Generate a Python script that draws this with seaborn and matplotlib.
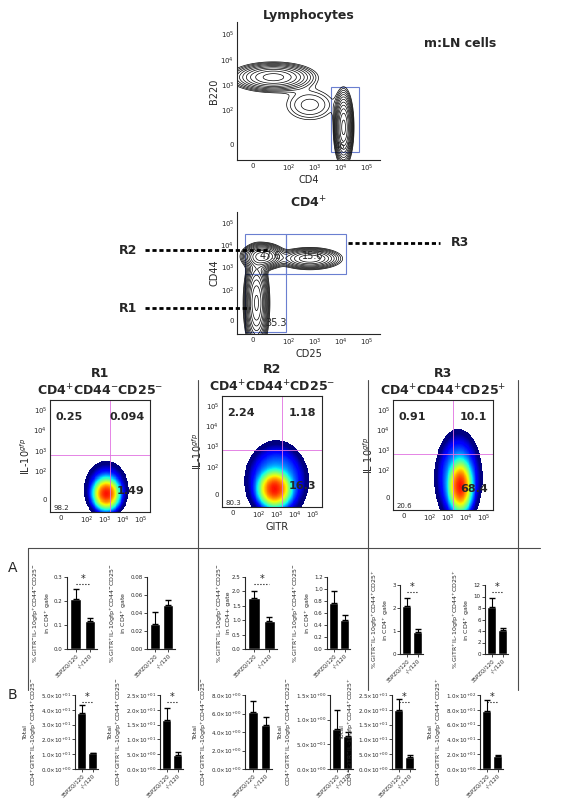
import numpy as np
import pandas as pd
import matplotlib
matplotlib.use("Agg")
import matplotlib.pyplot as plt
import seaborn as sns

sns.set_style("ticks")
plt.rcParams['font.family'] = ['DejaVu Sans']

W, H = 565, 800
fig = plt.figure(figsize=(5.65, 8), dpi=100)

def ax_px(x0, y0, x1, y1):
    return fig.add_axes([x0 / W, 1 - y1 / H, (x1 - x0) / W, (y1 - y0) / H])

flow_ticks = [0.6, 2, 3, 4, 5]
flow_ticklabels = ["0", "$10^2$", "$10^3$", "$10^4$", "$10^5$"]

# ---- flow population descriptions (centre x, centre y, sd x, sd y, weight)
lymph_pops = [(1.4, 3.3, 0.7, 0.25, 1.0), (4.1, 1.3, 0.15, 0.6, 1.8), (2.8, 2.2, 0.6, 0.4, 0.15)]
cd4_pops = [(1.0, 3.5, 0.35, 0.25, 1.2), (2.8, 3.4, 0.55, 0.22, 0.7), (0.75, 1.4, 0.2, 0.9, 1.4)]
r_pops = {
    "R1": [(3.1, 0.9, 0.28, 0.3, 1.0), (3.1, 1.1, 0.6, 0.7, 0.02)],
    "R2": [(2.9, 0.9, 0.35, 0.35, 1.0), (3.0, 1.3, 0.8, 0.9, 0.03)],
    "R3": [(3.7, 1.2, 0.25, 0.5, 1.0), (3.6, 1.6, 0.6, 1.1, 0.03)],
}

def density(pops, n=220):
    g = np.linspace(0, 5.5, n)
    X, Y = np.meshgrid(g, g)
    Z = np.zeros_like(X)
    for cx, cy, sx, sy, w in pops:
        Z += w * np.exp(-((X - cx) ** 2 / (2 * sx ** 2) + (Y - cy) ** 2 / (2 * sy ** 2)))
    return X, Y, Z

def flow_axes(ax, xlabel, ylabel):
    ax.set_xlim(0, 5.5); ax.set_ylim(0, 5.5)
    ax.set_xticks(flow_ticks); ax.set_xticklabels(flow_ticklabels, fontsize=5)
    ax.set_yticks(flow_ticks); ax.set_yticklabels(flow_ticklabels, fontsize=5)
    ax.tick_params(length=0, pad=2)
    ax.set_xlabel(xlabel, fontsize=7, labelpad=1)
    ax.set_ylabel(ylabel, fontsize=7, labelpad=1)
    for s in ["top", "right"]:
        ax.spines[s].set_visible(False)

# Lymphocytes
ax = ax_px(237, 22, 380, 160)
X, Y, Z = density(lymph_pops)
ax.contour(X, Y, Z, levels=np.geomspace(0.05, 1.6, 12), colors="k", linewidths=0.5)
ax.add_patch(plt.Rectangle((3.6, 0.3), 1.1, 2.6, fill=False, ec="#6a7fd0", lw=0.8))
ax.text(4.1, 0.45, "46.9", fontsize=6, ha="center")
flow_axes(ax, "CD4", "B220")
ax.set_title("Lymphocytes", fontsize=9, fontweight="bold", pad=2)
fig.text(460 / W, 1 - 47 / H, "m:LN cells", fontsize=9, fontweight="bold", ha="center")

# CD4+
ax = ax_px(237, 212, 380, 334)
X, Y, Z = density(cd4_pops)
ax.contour(X, Y, Z, levels=np.geomspace(0.05, 1.3, 12), colors="k", linewidths=0.5)
ax.add_patch(plt.Rectangle((0.3, 2.7), 1.6, 1.8, fill=False, ec="#6a7fd0", lw=0.8))
ax.add_patch(plt.Rectangle((1.9, 2.7), 2.3, 1.8, fill=False, ec="#6a7fd0", lw=0.8))
ax.add_patch(plt.Rectangle((0.3, 0.1), 1.6, 2.6, fill=False, ec="#6a7fd0", lw=0.8))
ax.text(1.3, 3.4, "47.6", fontsize=7, ha="center")
ax.text(2.9, 3.4, "15.6", fontsize=7, ha="center")
ax.text(1.5, 0.35, "35.3", fontsize=7, ha="center")
flow_axes(ax, "CD25", "CD44")
ax.set_title("CD4$^{+}$", fontsize=9, fontweight="bold", pad=3)

for label, y, x0, x1, tx in [("R2", 250, 145, 268, 128), ("R1", 308, 145, 250, 128)]:
    fig.add_artist(plt.Line2D([x0 / W, x1 / W], [1 - y / H] * 2, ls=(0, (1.5, 1)), lw=2, color="k"))
    fig.text(tx / W, 1 - y / H, label, fontsize=9, fontweight="bold", ha="center", va="center")
fig.add_artist(plt.Line2D([348 / W, 440 / W], [1 - 243 / H] * 2, ls=(0, (1.5, 1)), lw=2, color="k"))
fig.text(460 / W, 1 - 243 / H, "R3", fontsize=9, fontweight="bold", ha="center", va="center")

# Scatter density panels
panels = [
    ("R1", "CD4$^{+}$CD44$^{-}$CD25$^{-}$", (50, 400, 150, 512), ["0.25", "0.094", "1.49", "98.2"]),
    ("R2", "CD4$^{+}$CD44$^{+}$CD25$^{-}$", (222, 396, 322, 507), ["2.24", "1.18", "16.3", "80.3"]),
    ("R3", "CD4$^{+}$CD44$^{+}$CD25$^{+}$", (393, 400, 493, 510), ["0.91", "10.1", "68.4", "20.6"]),
]
for name, title, (x0, y0, x1, y1), q in panels:
    ax = ax_px(x0, y0, x1, y1)
    X, Y, Z = density(r_pops[name])
    L = np.log10(np.maximum(Z, 1e-9))
    L = np.where(L > -2.6, L, np.nan)
    ax.pcolormesh(X, Y, L, cmap="jet", shading="auto", vmin=-2.4, vmax=0.3)
    ax.axvline(3.3, color="#e070e0", lw=0.6); ax.axhline(2.8, color="#e070e0", lw=0.6)
    ax.text(0.3, 4.9, q[0], fontsize=8, fontweight="bold", va="top")
    ax.text(5.2, 4.9, q[1], fontsize=8, fontweight="bold", va="top", ha="right")
    ax.text(5.2, 0.9, q[2], fontsize=8, fontweight="bold", ha="right")
    ax.text(0.2, 0.1, q[3], fontsize=5)
    flow_axes(ax, "", "IL-10$^{gfp}$")
    for s in ["top", "right"]:
        ax.spines[s].set_visible(True)
    ax.set_title(name + "\n" + title, fontsize=9, fontweight="bold", pad=3, linespacing=1.3)
fig.text(277 / W, 1 - 530 / H, "GITR", fontsize=7, ha="center")

# Frame lines
def line(x0, y0, x1, y1, c="0.3"):
    fig.add_artist(plt.Line2D([x0 / W, x1 / W], [1 - y0 / H, 1 - y1 / H], color=c, lw=0.8))
line(28, 548, 540, 548)
line(28, 548, 28, 690)
line(198, 380, 198, 690)
line(368, 380, 368, 690)
line(518, 380, 518, 690)
fig.text(8 / W, 1 - 568 / H, "A", fontsize=10, va="center")
fig.text(8 / W, 1 - 695 / H, "B", fontsize=10, va="center")

# ---- bar data
groups = ["35PZQ/120", "-/-/120"]
A_means = [[0.21, 0.115], [0.028, 0.049], [1.78, 0.98], [0.76, 0.48], [2.1, 0.95], [8.2, 4.1]]
A_errs = [[0.04, 0.015], [0.013, 0.006], [0.25, 0.13], [0.2, 0.09], [0.35, 0.12], [1.6, 0.5]]
A_ylims = [0.3, 0.08, 2.5, 1.2, 3, 12]
A_ticks = [[0, 0.1, 0.2, 0.3], [0, 0.02, 0.04, 0.06, 0.08], [0, 0.5, 1.0, 1.5, 2.0, 2.5],
           [0, 0.2, 0.4, 0.6, 0.8, 1.0, 1.2], [0, 1, 2, 3], [0, 2, 4, 6, 8, 10, 12]]
A_fmt = ["{:.1f}", "{:.2f}", "{:.1f}", "{:.1f}", "{:.0f}", "{:.0f}"]
A_labels = ["% GITR$^{-}$IL-10gfp$^{+}$CD44$^{-}$CD25$^{-}$\nin CD4$^{+}$ gate",
            "% GITR$^{+}$IL-10gfp$^{+}$CD44$^{-}$CD25$^{-}$\nin CD4$^{+}$ gate",
            "% GITR$^{-}$IL-10gfp$^{+}$CD44$^{+}$CD25$^{-}$\nin CD4+ gate",
            "% GITR$^{+}$IL-10gfp$^{+}$CD44$^{+}$CD25$^{-}$\nin CD4$^{+}$ gate",
            "% GITR$^{-}$IL-10gfp$^{+}$CD44$^{+}$CD25$^{+}$\nin CD4$^{+}$ gate",
            "% GITR$^{+}$IL-10gfp$^{+}$CD44$^{+}$CD25$^{+}$\nin CD4$^{+}$ gate"]
A_sig = [True, False, True, False, True, True]
A_pos = [(67, 577, 97, 649), (147, 577, 175, 649), (245, 577, 277, 649),
         (327, 577, 350, 649), (400, 585, 423, 654), (485, 585, 508, 654)]

B_means = [[38, 11], [16.5, 4.8], [6.2, 4.8], [0.82, 0.66], [20, 4.2], [78, 18]]
B_errs = [[5.5, 0], [4, 0.8], [1.1, 0.8], [0.38, 0.08], [3.5, 0.4], [15, 1.5]]
B_ylims = [50, 25, 8, 1.5, 25, 100]
B_ticks = [[0, 10, 20, 30, 40, 50], [0, 5, 10, 15, 20, 25], [0, 2, 4, 6, 8],
           [0, 0.5, 1.0, 1.5], [0, 5, 10, 15, 20, 25], [0, 20, 40, 60, 80, 100]]
B_labels = ["Total\nCD4$^{+}$GITR$^{-}$IL-10gfp$^{+}$CD44$^{+}$CD25$^{-}$",
            "Total\nCD4$^{+}$GITR$^{+}$IL-10gfp$^{+}$CD44$^{+}$CD25$^{-}$",
            "Total\nCD4$^{+}$GITR$^{-}$IL-10gfp$^{+}$CD44$^{-}$CD25$^{-}$",
            "Total\nCD4$^{+}$GITR$^{+}$IL-10gfp$^{+}$CD44$^{-}$CD25$^{-}$",
            "Total\nCD4$^{+}$GITR$^{-}$IL-10gfp$^{+}$CD44$^{+}$CD25$^{+}$",
            "Total\nCD4$^{+}$GITR$^{+}$IL-10gfp$^{+}$CD44$^{+}$CD25$^{+}$"]
B_sig = [True, True, False, False, True, True]
B_pos = [(75, 695, 98, 769), (160, 695, 183, 769), (245, 695, 272, 769),
         (330, 695, 353, 769), (392, 695, 415, 769), (480, 695, 503, 769)]

def sci(v):
    if v == 0:
        return r"$0.0{\times}10^{+00}$"
    e = int(np.floor(np.log10(v)))
    m = v / 10 ** e
    sign = "+" if e >= 0 else "-"
    return r"$%.1f{\times}10^{%s%02d}$" % (m, sign, abs(e))

def bars(pos, means, errs, ylim, ticks, fmt, ylabel, sig):
    ax = ax_px(*pos)
    df = pd.DataFrame({"g": groups, "v": means})
    sns.barplot(data=df, x="g", y="v", ax=ax, color="black", width=0.75, errorbar=None)
    ax.errorbar([0, 1], means, yerr=[[0, 0], errs], fmt="none", ecolor="black", elinewidth=0.8, capsize=2)
    ax.set_ylim(0, ylim)
    ax.set_yticks(ticks)
    ax.set_yticklabels([fmt(t) for t in ticks], fontsize=4)
    ax.set_xticks([0, 1]); ax.set_xticklabels(groups, fontsize=4, rotation=45, ha="right", rotation_mode="anchor")
    ax.tick_params(length=2, pad=1, width=0.6)
    ax.set_xlabel(""); ax.set_ylabel(ylabel, fontsize=4.5, labelpad=1)
    ax.set_xlim(-0.6, 1.5)
    sns.despine(ax=ax)
    if sig:
        top = ylim * 0.9
        ax.plot([0, 1], [top, top], ls=":", color="black", lw=0.8)
        ax.text(0.5, top, "*", fontsize=7, ha="center", va="bottom")

for i in range(6):
    f = A_fmt[i]
    bars(A_pos[i], A_means[i], A_errs[i], A_ylims[i], A_ticks[i], lambda t, f=f: f.format(t), A_labels[i], A_sig[i])
for i in range(6):
    bars(B_pos[i], B_means[i], B_errs[i], B_ylims[i], B_ticks[i], sci, B_labels[i], B_sig[i])

fig.savefig("out.png", dpi=100)
